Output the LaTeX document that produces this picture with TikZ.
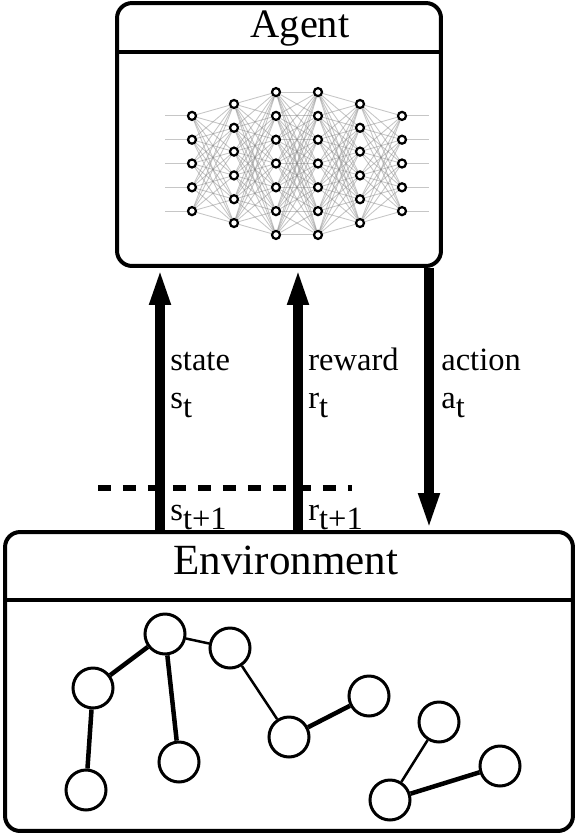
\documentclass[tikz,border=0pt]{standalone}
\usepackage{fontspec}
\setmainfont{Liberation Serif}
\usetikzlibrary{arrows.meta}

\newcommand{\dropsub}[1]{\raisebox{-0.3em}{#1}}

\tikzset{
  box/.style={draw, line width=0.08cm, rounded corners=0.3cm, inner sep=0pt},
  boxline/.style={line width=0.08cm},
  title/.style={inner sep=0pt, anchor=base},
  lbl/.style={font=\fontsize{18.5}{22}\selectfont, inner sep=0pt, anchor=base west},
  flow/.style={line width=0.2cm, -{Triangle[length=0.74cm, width=0.38cm]}},
  cut/.style={line width=0.11cm, dash pattern=on 0.26cm off 0.24cm},
  neuron/.style={circle, draw, fill=white, line width=0.045cm, minimum size=0.16cm, inner sep=0pt},
  synapse/.style={gray, opacity=0.45, line width=0.5pt},
  site/.style={circle, draw, fill=white, line width=0.06cm, minimum size=0.8cm, inner sep=0pt},
  link/.style={line width=0.05cm},
  heavylink/.style={line width=0.09cm}
}

\begin{document}
\begin{tikzpicture}[x=0.02cm, y=-0.02cm]
    \useasboundingbox (0,0) rectangle (578,836);

    % agent box
    \node[box, minimum width=6.48cm, minimum height=5.26cm] (agent) at (279,134.5) {};
    \coordinate (agenthdr) at (0,52);
    \draw[boxline] (agent.west |- agenthdr) -- (agent.east |- agenthdr);
    \node[title, font=\fontsize{23}{26}\selectfont] (agenttitle) at (300,37) {Agent};

    % environment box
    \node[box, minimum width=11.36cm, minimum height=5.98cm] (env) at (289,681.5) {};
    \coordinate (envhdr) at (0,600);
    \draw[boxline] (env.west |- envhdr) -- (env.east |- envhdr);
    \node[title, font=\fontsize{24.5}{28}\selectfont] (envtitle) at (286,574) {Environment};

    % network layers
    \foreach \l/\n in {1/5,2/6,3/7,4/7,5/6,6/5}
        \foreach \i in {1,...,\n}
            \node[neuron] (n\l-\i) at ({150+42*\l},{163.5+(\i-(\n+1)/2)*23.8}) {};

    % network weights
    \foreach \l/\n/\m in {1/5/6,2/6/7,3/7/7,4/7/6,5/6/5} {
        \pgfmathtruncatemacro{\k}{\l+1}
        \foreach \i in {1,...,\n}
            \foreach \j in {1,...,\m}
                \draw[synapse] (n\l-\i) -- (n\k-\j);
    }

    % inputs and outputs
    \foreach \i in {1,...,5} {
        \draw[synapse] (n1-\i.west) -- +(-22,0);
        \draw[synapse] (n6-\i.east) -- +(22,0);
    }

    % arrows between agent and environment
    \coordinate (statex) at (160,0);
    \coordinate (rewardx) at (298,0);
    \coordinate (actionx) at (429,0);
    \draw[flow] (env.north -| statex) -- (agent.south -| statex);
    \draw[flow] (env.north -| rewardx) -- (agent.south -| rewardx);
    \draw[flow] (agent.south -| actionx) -- (env.north -| actionx);

    % labels
    \node[lbl] (statelbl) at (170,370) {state};
    \node[lbl] (stlbl) at (170,408) {s\dropsub{t}};
    \node[lbl] (rewardlbl) at (308,370) {reward};
    \node[lbl] (rtlbl) at (308,408) {r\dropsub{t}};
    \node[lbl] (actionlbl) at (441,370) {action};
    \node[lbl] (atlbl) at (441,408) {a\dropsub{t}};
    \node[lbl] (snextlbl) at (170,520) {s\dropsub{t+1}};
    \node[lbl] (rnextlbl) at (308,520) {r\dropsub{t+1}};

    % time step cut
    \coordinate (cutl) at (98,488);
    \coordinate (cutr) at (352,488);
    \draw[cut] (cutl) -- (cutr);

    % environment graph
    \node[site] (g1) at (93,688) {};
    \node[site] (g2) at (165,634) {};
    \node[site] (g3) at (230,648) {};
    \node[site] (g4) at (86,790) {};
    \node[site] (g5) at (179,762) {};
    \node[site] (g6) at (289,737) {};
    \node[site] (g7) at (369,696) {};
    \node[site] (g8) at (439,722) {};
    \node[site] (g9) at (390,800) {};
    \node[site] (g10) at (500,766) {};

    \draw[heavylink] (g1) -- (g2);
    \draw[heavylink] (g1) -- (g4);
    \draw[heavylink] (g2) -- (g5);
    \draw[link] (g2) -- (g3);
    \draw[link] (g3) -- (g6);
    \draw[heavylink] (g6) -- (g7);
    \draw[link] (g8) -- (g9);
    \draw[heavylink] (g9) -- (g10);
\end{tikzpicture}
\end{document}
